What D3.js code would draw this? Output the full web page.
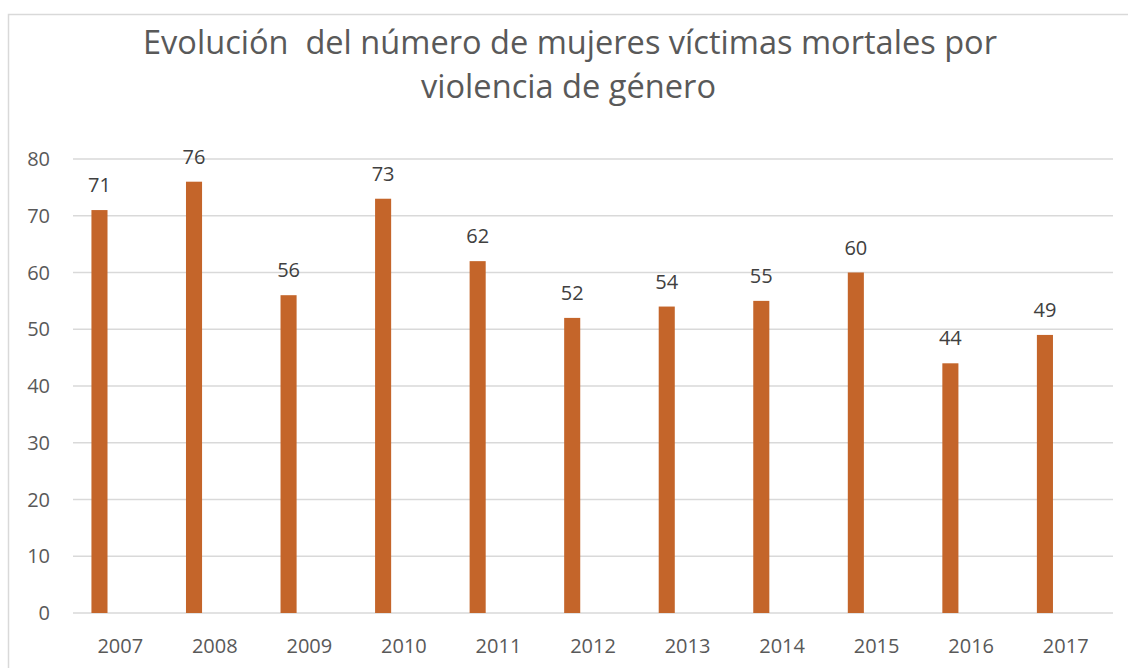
<!DOCTYPE html>
<html><head><meta charset="utf-8">
<script src="https://cdn.jsdelivr.net/npm/d3@7"></script>
<style>html,body{margin:0;padding:0;background:#fff;}svg{display:block;}</style>
</head><body>
<script>
const years = ["2007","2008","2009","2010","2011","2012","2013","2014","2015","2016","2017"];
const victims = [71,76,56,73,62,52,54,55,60,44,49];
const yTicks = [0,10,20,30,40,50,60,70,80];
const titleLines = ["Evolución  del número de mujeres víctimas mortales por","violencia de género"];

(function () {
const W = 1128, H = 668;
const font = "'Open Sans', 'Noto Sans', sans-serif";
const svg = d3.select("body").append("svg").attr("width", W).attr("height", H);

svg.append("rect").attr("x", 8.5).attr("y", 14.5).attr("width", 1130).attr("height", 670)
  .attr("fill", "#fff").attr("stroke", "#d9d9d9").attr("stroke-width", 1.5);

const pLeft = 73, pRight = 1113, pTop = 159, pBottom = 613;
const x = d3.scaleBand().domain(years).range([pLeft, pRight]).padding(0);
const y = d3.scaleLinear().domain([0, 80]).range([pBottom, pTop]);

// gridlines
svg.append("g").selectAll("line").data(yTicks).join("line")
  .attr("x1", pLeft).attr("x2", pRight)
  .attr("y1", d => y(d)).attr("y2", d => y(d))
  .attr("stroke", "#d9d9d9").attr("stroke-width", 1.5);

// y tick labels
svg.append("g").selectAll("text").data(yTicks).join("text")
  .attr("x", 50).attr("y", d => y(d)).attr("dy", "0.36em")
  .attr("text-anchor", "end").attr("font-family", font).attr("font-size", 20)
  .attr("fill", "#595959").text(d => d);

// x labels
svg.append("g").selectAll("text").data(years).join("text")
  .attr("x", d => x(d) + x.bandwidth() / 2).attr("y", 653)
  .attr("text-anchor", "middle").attr("font-family", font).attr("font-size", 20)
  .attr("fill", "#595959").text(d => d);

const bw = x.bandwidth();
const barOff = bw * 0.195, barW = bw * 0.17;
const data = years.map((yr, i) => ({yr, v: victims[i]}));

svg.append("g").selectAll("rect").data(data).join("rect")
  .attr("x", d => x(d.yr) + barOff).attr("width", barW)
  .attr("y", d => y(d.v)).attr("height", d => y(0) - y(d.v))
  .attr("fill", "#C4652A");

svg.append("g").selectAll("text").data(data).join("text")
  .attr("x", d => x(d.yr) + barOff + barW / 2).attr("y", d => y(d.v) - 18)
  .attr("text-anchor", "middle").attr("font-family", font).attr("font-size", 20)
  .attr("fill", "#404040").text(d => d.v);

// title
const tl = [[570, 54, 854], [568.5, 98, 295]];
svg.append("g").selectAll("text").data(titleLines).join("text")
  .attr("x", (d, i) => tl[i][0]).attr("y", (d, i) => tl[i][1])
  .attr("text-anchor", "middle").attr("font-family", font).attr("font-size", 33)
  .style("white-space", "pre").attr("xml:space", "preserve")
  .attr("textLength", (d, i) => tl[i][2]).attr("lengthAdjust", "spacingAndGlyphs")
  .attr("fill", "#595959").text(d => d);
})();
</script>
</body></html>
